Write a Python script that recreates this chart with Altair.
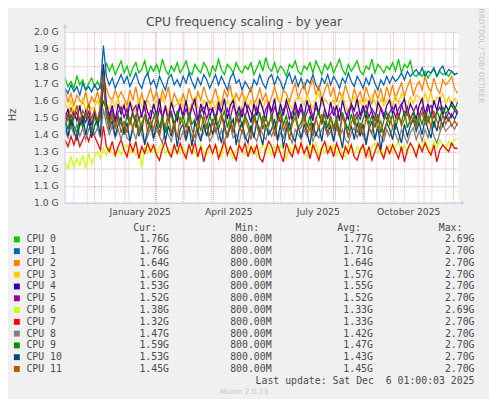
import altair as alt
import pandas as pd

# ---------------- data ----------------
cpu_names = ["CPU 0", "CPU 1", "CPU 2", "CPU 3", "CPU 4", "CPU 5",
             "CPU 6", "CPU 7", "CPU 8", "CPU 9", "CPU 10", "CPU 11"]
cpu_colors = ["#00CC00", "#0066B3", "#FF8000", "#FFCC00", "#330099", "#990099",
              "#CCFF00", "#FF0000", "#808080", "#008F00", "#00487D", "#B35A00"]
cur_vals = ["1.76G", "1.76G", "1.64G", "1.60G", "1.53G", "1.52G",
            "1.38G", "1.32G", "1.47G", "1.59G", "1.53G", "1.45G"]
min_vals = ["800.00M"] * 12
avg_vals = ["1.77G", "1.71G", "1.64G", "1.57G", "1.55G", "1.52G",
            "1.33G", "1.33G", "1.42G", "1.47G", "1.43G", "1.45G"]
max_vals = ["2.69G", "2.70G", "2.70G", "2.70G", "2.70G", "2.70G",
            "2.69G", "2.70G", "2.70G", "2.70G", "2.70G", "2.70G"]

# values in 0.01 GHz, one every 3 days from 2024-11-01
cpu0 = [173,168,171,167,174,169,172,166,170,173,
        168,171,167,170,182,177,181,175,179,183,
        176,180,174,179,182,176,178,183,175,180,
        177,181,176,184,178,175,180,177,182,176,
        179,183,177,175,181,178,176,182,179,174,
        180,177,184,178,175,181,179,176,182,178,
        176,180,178,182,175,179,183,177,185,179,
        177,182,176,180,178,174,181,179,183,177,
        175,180,178,182,176,183,179,175,181,178,
        182,176,180,184,178,175,181,177,180,183,
        177,175,180,178,184,176,181,179,176,180,
        178,182,177,184,176,181,179,183,175,174,
        176,174,177,173,176,178,174,177,175,176,
        174,177,175,176]
cpu1 = [167,164,169,165,168,163,170,166,168,165,
        169,166,168,192,174,169,173,167,171,175,
        170,174,168,172,176,170,167,173,176,169,
        172,167,174,170,166,173,175,169,172,168,
        174,170,176,171,167,173,169,175,172,167,
        171,175,169,174,170,166,173,176,170,172,
        166,171,168,165,172,169,175,170,167,173,
        175,169,174,171,166,172,176,170,174,168,
        173,167,172,170,175,169,166,173,170,175,
        169,174,171,167,173,170,176,171,168,174,
        171,167,173,169,175,170,166,172,169,174,
        170,174,171,173,176,172,177,174,176,178,
        175,179,174,177,176,179,174,178,180,175,
        178,177,175,176]
cpu2 = [166,159,164,157,163,160,158,165,156,162,
        159,165,157,171,167,162,160,166,161,165,
        161,157,166,160,168,158,164,157,162,167,
        160,165,158,166,161,168,157,164,160,156,
        164,158,167,161,157,165,160,168,162,158,
        161,167,159,157,166,162,169,158,164,160,
        165,159,163,168,158,161,167,160,164,157,
        162,168,161,158,166,164,159,165,170,161,
        166,170,162,168,172,163,169,160,166,170,
        162,168,159,165,161,169,163,158,167,161,
        165,159,168,162,158,166,161,167,159,168,
        162,169,161,166,170,162,168,172,163,168,
        171,166,174,168,165,173,167,164,172,169,
        171,174,167,164]
cpu3 = [159,154,160,153,157,155,161,154,158,155,
        156,160,154,166,158,155,160,156,161,155,
        158,154,160,156,153,161,157,154,160,156,
        155,160,156,162,157,153,160,156,158,161,
        156,160,154,158,162,156,153,160,157,155,
        160,155,162,157,154,160,156,163,157,154,
        157,162,155,160,154,158,161,155,160,157,
        155,160,163,157,153,161,158,155,160,162,
        161,157,163,159,155,161,164,157,161,158,
        157,161,155,159,163,157,153,159,162,156,
        160,155,161,157,163,159,154,161,157,160,
        161,157,163,158,164,160,156,162,158,163,
        162,158,164,159,165,157,162,160,164,158,
        162,158,161,160]
cpu4 = [149,155,145,153,148,157,146,154,150,144,
        153,147,156,181,158,151,157,148,158,152,
        157,149,159,152,148,158,150,160,153,149,
        158,151,161,149,156,148,159,153,148,157,
        151,160,149,156,161,148,158,152,159,150,
        156,148,159,153,161,149,157,160,151,156,
        150,159,153,147,158,151,160,155,148,159,
        153,161,149,158,151,160,155,148,159,152,
        158,150,160,153,148,159,152,162,155,149,
        159,151,157,148,160,153,149,158,154,161,
        151,157,149,160,153,148,159,155,150,157,
        160,152,158,149,157,161,151,158,154,149,
        157,161,152,158,150,160,154,162,151,157,
        154,159,156,153]
cpu5 = [146,152,144,150,153,145,151,147,154,146,
        151,147,153,170,154,149,155,147,153,156,
        150,155,147,154,157,149,152,156,146,154,
        153,147,155,150,157,148,154,146,152,157,
        149,155,150,157,152,147,154,156,149,155,
        154,148,156,152,146,155,150,157,153,147,
        155,150,157,153,148,156,151,147,155,158,
        150,156,152,147,155,157,149,153,156,150,
        155,148,153,157,150,156,152,147,155,150,
        152,156,149,155,150,147,154,157,150,153,
        149,154,157,150,155,152,147,156,152,149,
        153,156,150,155,158,151,156,149,153,157,
        151,156,149,155,157,150,153,156,151,149,
        153,150,154,152]
cpu6 = [124,120,127,121,126,122,128,120,129,123,
        127,130,126,132,128,133,129,127,132,128,
        132,134,129,133,128,131,121,133,129,134,
        131,127,133,135,129,132,127,131,134,129,
        133,128,131,135,129,127,134,130,128,133,
        129,134,131,127,135,132,129,126,131,134,
        131,128,134,129,133,127,131,135,129,133,
        128,133,130,134,131,126,133,129,135,131,
        133,129,127,134,130,135,128,133,129,134,
        130,134,128,133,129,127,134,131,128,133,
        129,134,131,127,133,135,129,133,128,131,
        134,129,133,136,130,134,129,135,132,128,
        135,131,137,133,130,136,132,137,134,131,
        136,133,137,138]
cpu7 = [137,133,139,134,140,133,137,141,136,142,
        139,135,131,145,133,130,136,128,133,137,
        131,127,135,130,136,126,133,129,135,130,
        134,128,125,132,136,130,127,134,129,135,
        130,126,134,129,136,127,133,124,131,134,
        129,134,126,131,137,128,133,129,125,134,
        130,135,127,133,129,134,126,124,131,136,
        133,127,134,129,124,135,130,127,134,129,
        135,129,133,126,134,130,125,132,136,129,
        133,127,135,130,126,133,129,134,127,125,
        131,134,127,133,125,130,135,130,126,133,
        129,134,130,126,133,124,131,135,132,127,
        134,130,135,131,128,134,124,131,134,132,
        130,135,132,132]
cpu8 = [143,138,145,140,146,139,144,137,143,145,
        140,144,138,155,146,140,145,138,143,137,
        144,138,136,143,137,145,140,135,139,144,
        137,143,139,135,144,140,136,143,139,137,
        142,136,144,139,135,143,138,141,145,136,
        139,144,137,143,136,141,145,138,140,135,
        143,137,141,145,139,136,144,140,137,143,
        139,144,136,141,138,145,139,135,143,140,
        137,143,139,144,136,141,138,143,145,139,
        142,136,144,139,143,137,135,141,144,138,
        143,139,136,144,140,137,145,139,136,143,
        139,144,140,136,143,139,135,141,144,137,
        142,136,143,138,145,139,135,141,146,142,
        144,146,143,147]
cpu9 = [149,143,152,145,141,150,144,153,147,142,
        151,145,150,160,154,147,152,144,151,146,
        143,151,146,153,144,150,142,152,147,144,
        150,153,144,151,141,148,152,143,154,146,
        151,144,153,146,149,141,152,147,144,151,
        146,152,143,149,154,144,151,141,148,153,
        144,151,147,141,152,146,153,143,150,145,
        152,143,149,154,146,151,142,148,153,144,
        147,153,144,151,142,149,154,146,152,144,
        151,144,150,141,153,147,143,152,146,151,
        143,149,154,146,151,144,152,141,148,153,
        146,152,143,151,147,154,144,149,153,146,
        151,146,153,147,152,144,154,149,156,152,
        155,157,154,159]
cpu10 = [147,139,149,142,137,146,151,140,148,138,
         145,149,139,178,151,143,148,139,146,150,
         140,147,136,145,149,139,146,134,143,148,
         138,146,141,149,136,145,139,147,133,143,
         146,137,145,133,148,141,136,146,139,147,
         140,148,142,135,146,138,145,149,134,143,
         147,139,135,145,138,148,141,134,146,140,
         143,149,137,146,132,143,147,139,136,145,
         138,146,141,134,147,139,145,136,148,141,
         145,136,147,141,132,146,139,145,137,147,
         139,146,134,143,148,137,145,131,142,147,
         143,137,147,141,135,146,139,145,149,142,
         147,140,149,143,138,148,142,150,145,151,
         148,152,149,153]
cpu11 = [153,148,156,149,157,147,154,150,158,149,
         155,148,157,175,151,144,152,143,150,141,
         148,141,150,143,152,140,147,151,141,148,
         143,151,139,148,145,152,141,147,138,150,
         147,140,150,143,138,148,142,151,145,139,
         149,141,147,152,143,138,148,141,151,145,
         141,149,144,137,150,145,139,151,143,147,
         149,139,147,151,142,148,137,146,150,143,
         144,151,141,147,139,150,143,152,145,140,
         150,142,148,139,151,145,138,147,150,141,
         147,139,150,144,141,151,143,148,139,147,
         151,144,148,152,145,149,153,146,150,144,
         149,153,146,151,144,154,148,143,152,146,
         150,145,148,145]

series = [cpu0, cpu1, cpu2, cpu3, cpu4, cpu5, cpu6, cpu7, cpu8, cpu9, cpu10, cpu11]

start = pd.Timestamp("2024-11-01T01:00:00")
step_days = 3

def series_frame(vals):
    return pd.DataFrame({
        "t": [(start + pd.Timedelta(days=step_days * i)).strftime("%Y-%m-%dT%H:%M:%S")
              for i in range(len(vals))],
        "v": [v / 100 for v in vals],
    })

minor_grid = [d.strftime("%Y-%m-%dT%H:%M:%S") for d in pd.date_range("2024-11-10", "2025-12-06", freq="14D")]
major_grid = [d.strftime("%Y-%m-%dT%H:%M:%S") for d in pd.date_range("2024-12-01", "2025-12-01", freq="MS")]

# ---------------- layout / style ----------------
W, H = 400, 174
FONT = "DejaVu Sans"
MONO = "DejaVu Sans Mono"
TXT = "#4a4a4a"
AXIS_COL = "#C4CCF4"

xscale = alt.Scale(domain=[alt.DateTime(year=2024, month=11, date=1, hours=1),
                           alt.DateTime(year=2025, month=12, date=6, hours=1)])
xaxis = alt.Axis(values=[alt.DateTime(year=2025, month=m, date=16) for m in (1, 4, 7, 10)],
                 format="%B %Y", grid=False, ticks=False, domain=False,
                 labelFont=FONT, labelFontSize=9.4, labelColor=TXT,
                 labelPadding=5, labelFlush=False, labelOverlap=False, title=None)
yscale = alt.Scale(domain=[1.0, 2.0], zero=False, nice=False)
yaxis = alt.Axis(values=[round(1.0 + 0.1 * k, 1) for k in range(11)],
                 labelExpr="format(datum.value, '.1f') + ' G'",
                 grid=True, gridColor="#EE9C9C", gridDash=[1, 1], gridWidth=1,
                 ticks=False, domain=False, labelFont=FONT, labelFontSize=9.4,
                 labelColor=TXT, labelPadding=7, labelOverlap=False, title=None)

def xenc(field):
    return alt.X(field, type="temporal", scale=xscale, axis=xaxis)

one = pd.DataFrame({"k": [0]})

grid_minor = alt.Chart(pd.DataFrame({"d": minor_grid})).mark_rule(
    color="#C8C8C8", strokeDash=[1, 1], strokeWidth=1).encode(
    x=xenc("d"), y=alt.value(0), y2=alt.value(H))
grid_major = alt.Chart(pd.DataFrame({"d": major_grid})).mark_rule(
    color="#EE9C9C", strokeDash=[1, 1], strokeWidth=1).encode(
    x=xenc("d"), y=alt.value(0), y2=alt.value(H + 2))

line_layers = []
for name, col, vals in zip(cpu_names, cpu_colors, series):
    line_layers.append(
        alt.Chart(series_frame(vals)).mark_line(color=col, strokeWidth=1.3, clip=True).encode(
            x=xenc("t"),
            y=alt.Y("v:Q", scale=yscale, axis=yaxis),
        )
    )
lines = alt.layer(*line_layers)

# axis lines with arrows
x_axis_line = alt.Chart(one).mark_rule(color=AXIS_COL, strokeWidth=1).encode(
    x=alt.value(0), x2=alt.value(403), y=alt.value(H))
y_axis_line = alt.Chart(one).mark_rule(color=AXIS_COL, strokeWidth=1).encode(
    x=alt.value(0), y=alt.value(-5), y2=alt.value(H))
x_arrow = alt.Chart(one).mark_point(shape="triangle-right", filled=True, size=22,
                                    color=AXIS_COL, opacity=1).encode(
    x=alt.value(404.5), y=alt.value(H))
y_arrow = alt.Chart(one).mark_point(shape="triangle-up", filled=True, size=22,
                                    color=AXIS_COL, opacity=1).encode(
    x=alt.value(0), y=alt.value(-6))

# texts
title = alt.Chart(one).mark_text(text="CPU frequency scaling - by year", font=FONT,
                                 fontSize=12.5, color="#505050", align="center",
                                 baseline="alphabetic").encode(
    x=alt.value(182), y=alt.value(-5.5))
hz = alt.Chart(one).mark_text(text="Hz", font=FONT, fontSize=10, color=TXT,
                              align="center", baseline="middle", angle=270).encode(
    x=alt.value(-52.5), y=alt.value(84.4))
rrd = alt.Chart(one).mark_text(text="RRDTOOL / TOBI OETIKER", font=FONT, fontSize=7.5,
                               color="#C4C4C4", align="center", baseline="middle",
                               angle=90).encode(
    x=alt.value(422.5), y=alt.value(24.5))

# legend table
leg = pd.DataFrame({
    "row": list(range(12)),
    "name": cpu_names,
    "cur": cur_vals,
    "mn": min_vals,
    "avg": avg_vals,
    "mx": max_vals,
})
yrow = alt.Y("row:Q", scale=alt.Scale(domain=[0, 11], range=[211, 342.7], zero=False, nice=False),
             axis=None)

leg_sq = alt.Chart(leg).mark_square(size=36, opacity=1).encode(
    x=alt.value(-49), y=yrow,
    color=alt.Color("name:N", scale=alt.Scale(domain=cpu_names, range=cpu_colors), legend=None))

def col_text(field, xpos, align):
    return alt.Chart(leg).mark_text(font=MONO, fontSize=10, color=TXT, align=align,
                                    baseline="middle").encode(
        x=alt.value(xpos), y=yrow, text=f"{field}:N")

leg_name = col_text("name", -39.3, "left")
leg_cur = col_text("cur", 105.7, "right")
leg_min = col_text("mn", 210, "right")
leg_avg = col_text("avg", 313, "right")
leg_max = col_text("mx", 416.3, "right")

headers = pd.DataFrame({"row": [-1, -1, -1, -1],
                        "h": ["Cur:", "Min:", "Avg:", "Max:"],
                        "xpos": [93.3, 197.3, 300.7, 404.0]})
hdr_layers = []
for _, r in headers.iterrows():
    hdr_layers.append(
        alt.Chart(pd.DataFrame({"row": [r["row"]], "h": [r["h"]]})).mark_text(
            font=MONO, fontSize=10, color=TXT, align="right", baseline="middle").encode(
            x=alt.value(float(r["xpos"])), y=yrow, text="h:N"))

footer = alt.Chart(pd.DataFrame({"row": [12], "s": ["Last update: Sat Dec \u00a06 01:00:03 2025"]})).mark_text(
    font=MONO, fontSize=10, color=TXT, align="right", baseline="middle").encode(
    x=alt.value(416.3), y=yrow, text="s:N")
munin = alt.Chart(pd.DataFrame({"row": [13], "s": ["Munin 2.0.73"]})).mark_text(
    font=FONT, fontSize=7.5, color="#C8C8C8", align="center", baseline="middle").encode(
    x=alt.value(182), y=yrow, text="s:N")

legend = alt.layer(leg_sq, leg_name, leg_cur, leg_min, leg_avg, leg_max,
                   *hdr_layers, footer, munin)

chart = alt.layer(
    grid_minor, grid_major, lines, x_axis_line, y_axis_line, x_arrow, y_arrow,
    title, hz, rrd, legend
).resolve_scale(y="independent").properties(
    width=W, height=H,
    padding={"left": 58, "top": 21, "right": 31, "bottom": 196},
    autosize=alt.AutoSizeParams(type="none"),
    background="#F0F0F0",
).configure_view(fill="white", stroke=None)

chart.save("out.html", embed_options={"renderer": "svg", "actions": False})
